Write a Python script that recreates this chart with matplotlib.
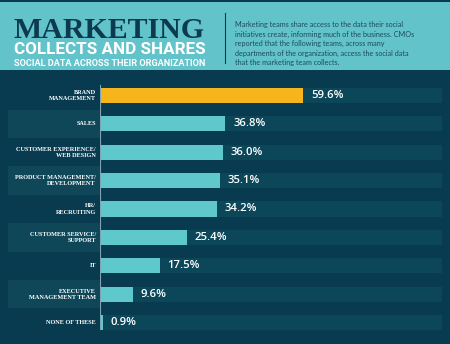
import matplotlib
matplotlib.use("Agg")
import matplotlib.pyplot as plt
from matplotlib.patches import Rectangle

categories = [
    "BRAND\nMANAGEMENT",
    "SALES",
    "CUSTOMER EXPERIENCE/\nWEB DESIGN",
    "PRODUCT MANAGEMENT/\nDEVELOPMENT",
    "HR/\nRECRUITING",
    "CUSTOMER SERVICE/\nSUPPORT",
    "IT",
    "EXECUTIVE\nMANAGEMENT TEAM",
    "NONE OF THESE",
]
values = [59.6, 36.8, 36.0, 35.1, 34.2, 25.4, 17.5, 9.6, 0.9]
highlight = 0

BG = "#083b4f"
HEADER = "#62c3ca"
NAVY = "#0c3a4e"
CYAN = "#5ec8cc"
GOLD = "#f6b51b"
TRACK = "#0b4659"
LABEL_BAND = "#0f4759"

W, H = 450, 344
fig = plt.figure(figsize=(W / 100, H / 100), dpi=100, facecolor=BG)
renderer = fig.canvas.get_renderer()


def fit_width(text_obj, width_px):
    """Scale a text's font size so it spans the given width in pixels."""
    ext = text_obj.get_window_extent(renderer)
    text_obj.set_fontsize(text_obj.get_fontsize() * width_px / ext.width)


# header band
fig.patches.append(Rectangle((0, 1 - 70 / H), 1, 68 / H, transform=fig.transFigure,
                             facecolor=HEADER, edgecolor="none", zorder=0))
fig.add_artist(plt.Line2D([224.5 / W, 224.5 / W], [1 - 13 / H, 1 - 63 / H],
                          color=NAVY, lw=0.8))

t1 = fig.text(14 / W, 1 - 37.5 / H, "MARKETING", family="Liberation Serif",
              weight="bold", fontsize=30, color=NAVY, va="baseline", ha="left")
fit_width(t1, 191)
t2 = fig.text(14 / W, 1 - 54 / H, "COLLECTS AND SHARES", family="Roboto",
              weight="bold", fontsize=11, color="white", va="baseline", ha="left")
fit_width(t2, 191)
t3 = fig.text(14 / W, 1 - 65.5 / H, "SOCIAL DATA ACROSS THEIR ORGANIZATION",
              family="Roboto", weight="bold", fontsize=6,
              color="white", va="baseline", ha="left")
fit_width(t3, 191)

paragraph = ("Marketing teams share access to the data their social\n"
             "initiatives create, informing much of the business. CMOs\n"
             "reported that the following teams, across many\n"
             "departments of the organization, access the social data\n"
             "that the marketing team collects.")
fig.text(235 / W, 1 - 21 / H, paragraph, family="Lato", fontsize=5.2,
         color="#1d4b5d", va="top", ha="left", linespacing=1.42)

# bar axes
n = len(categories)
ax_bottom = 1 - 336.7 / H
ax_height = 255.4 / H
ax = fig.add_axes([100 / W, ax_bottom, 342 / W, ax_height])
ax.set_facecolor("none")
ax.set_xlim(0, 100.3)
ax.set_ylim(n - 0.5, -0.5)
ax.axis("off")

rows = list(range(n))
ax.barh(rows, [100.3] * n, height=0.53, color=TRACK, zorder=1)
colors = [GOLD if i == highlight else CYAN for i in rows]
ax.barh(rows, values, height=0.53, color=colors, zorder=2)
for i, v in zip(rows, values):
    ax.text(v + 2.3, i, f"{v:.1f}%", va="center", ha="left", color="white",
            fontsize=8.2, family="Open Sans", weight="semibold", zorder=3)
ax.axvline(0, ymin=0.03, ymax=0.985, color="#7fa5b1", lw=0.8, zorder=4)

# category label column
lax = fig.add_axes([8 / W, ax_bottom, 92 / W, ax_height], sharey=ax)
lax.set_facecolor("none")
lax.set_xlim(0, 1)
lax.axis("off")
for i in rows:
    if i % 2 == 1:
        lax.add_patch(Rectangle((0, i - 0.5), 1, 1, facecolor=LABEL_BAND,
                                edgecolor="none", zorder=0))
    lax.text(0.955, i, categories[i], ha="right", va="center", color="white",
             family="Liberation Serif", weight="bold", fontsize=4.5,
             linespacing=1.3, zorder=2)

fig.savefig("out.png", dpi=100, facecolor=BG)
